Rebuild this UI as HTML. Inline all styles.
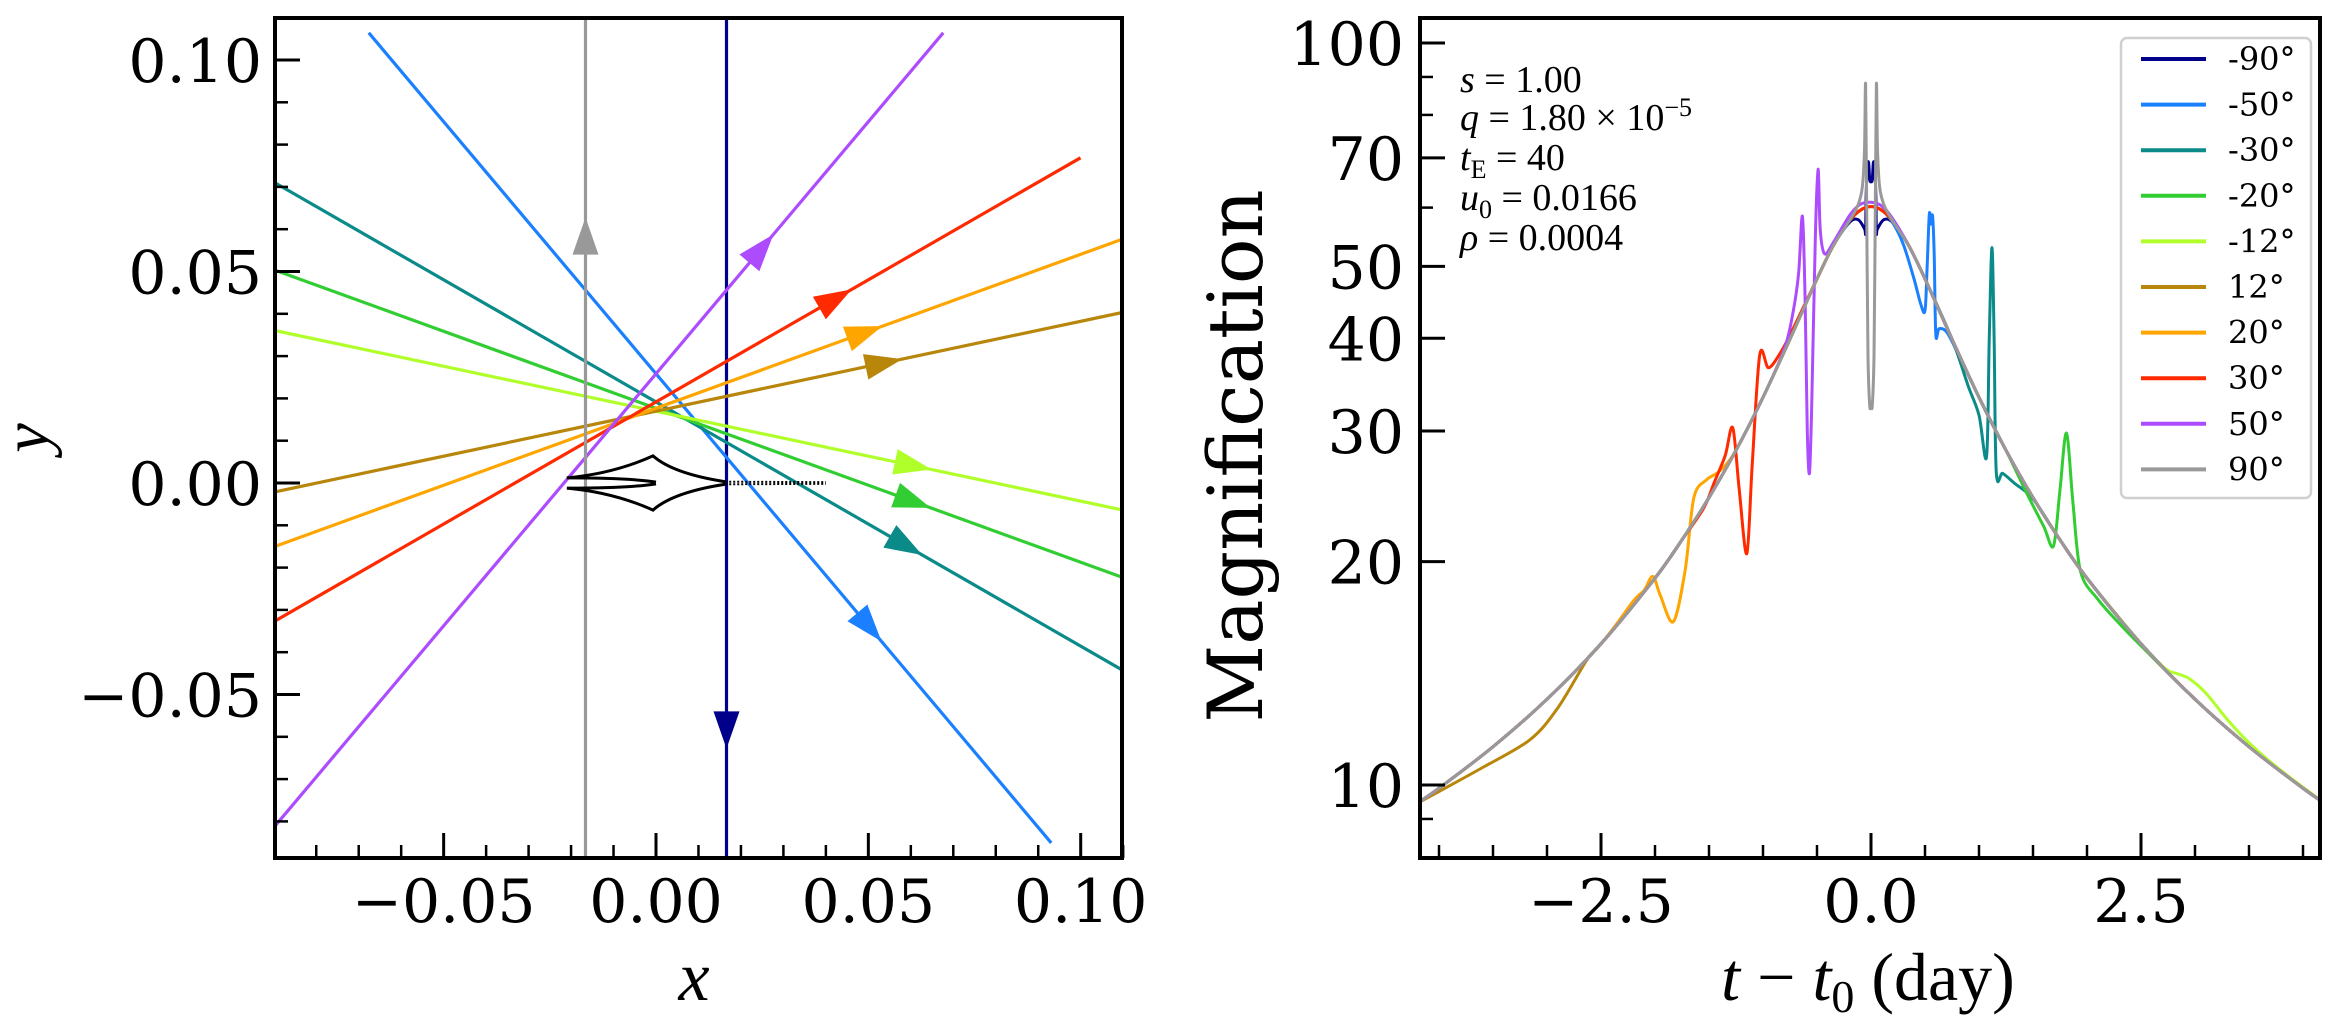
<!DOCTYPE html>
<html><head><meta charset="utf-8"><style>
html,body{margin:0;padding:0;background:#fff;}
svg{display:block;}
.tk{font-family:"DejaVu Serif",serif;font-size:60px;fill:#000;}
.ann{font-family:"Liberation Serif",serif;font-size:38px;fill:#000;}
.leg{font-family:"DejaVu Serif",serif;font-size:32px;fill:#000;}
</style></head><body>
<svg id="fig" width="2329" height="1028" xmlns="http://www.w3.org/2000/svg">
<defs>
<clipPath id="clipL"><rect x="275" y="18" width="847" height="840"/></clipPath>
<clipPath id="clipR"><rect x="1420" y="18" width="900" height="840"/></clipPath>
</defs>
<rect width="2329" height="1028" fill="#fff"/>
<g id="left"></g>
<g id="right"></g>
</svg>
<script>
// ---------- data ----------
const angleLabels = ["-90°","-50°","-30°","-20°","-12°","12°","20°","30°","50°","90°"];
const anglesDeg = [-90,-50,-30,-20,-12,12,20,30,50,90];
const colors = ["#00008b","#1b80ff","#0b8a8a","#32cd32","#b0ff2a","#b8860b","#ffa500","#ff2a00","#ad4cff","#999999"];
const u0 = 0.0166;
const tRange = [-0.125, 0.125];
const arrowT = [0.054, 0.0628];
const xTicksL = [-0.05, 0.00, 0.05, 0.10];
const xTickLabelsL = ["\u22120.05","0.00","0.05","0.10"];
const yTicksL = [-0.05, 0.00, 0.05, 0.10];
const yTickLabelsL = ["\u22120.05","0.00","0.05","0.10"];
const xTicksR = [-2.5, 0.0, 2.5];
const xTickLabelsR = ["\u22122.5","0.0","2.5"];
const yTicksR = [10,20,30,40,50,70,100];
const yTickLabelsR = ["10","20","30","40","50","70","100"];
const yMinorR = [9,60,80,90];

const t_m90 = [-4.2,-4,-3.5,-3,-2.5,-2,-1.75,-1.5,-1.25,-1,-0.75,-0.5,-0.35,-0.2,-0.12,-0.06,-0.05,-0.045,-0.035,-0.022,-0.012,0,0.012,0.022,0.035,0.045,0.05,0.06,0.12,0.2,0.35,0.5,0.75,1,1.25,1.5,1.75,2,2.5,3,3.5,4,4.2];
const a_m90 = [9.45,9.9,11.26,13.05,15.5,19.0,21.4,24.4,28.25,33.3,39.9,48.1,53.3,57.3,57.8,56.2,55.5,62,68,69,65.5,65,65.5,69,68,62,55.5,56.2,57.8,57.3,53.3,48.1,39.9,33.3,28.25,24.4,21.4,19.0,15.5,13.05,11.26,9.9,9.45];
const t_m50 = [-4.2,-4,-3.5,-3,-2.5,-2,-1.75,-1.5,-1.25,-1,-0.75,-0.5,-0.35,-0.2,-0.1,0,0.1,0.2,0.3,0.4,0.46,0.5,0.52,0.54,0.555,0.57,0.585,0.6,0.63,0.7,0.8,1,1.25,1.5,1.75,2,2.5,3,3.5,4,4.2];
const a_m50 = [9.45,9.9,11.26,13.05,15.5,19.0,21.4,24.4,28.25,33.3,39.9,48.1,53.3,57.6,59.5,60.2,59.5,57.3,53.5,48,44.5,43.6,50,58.8,57,58.5,52,40.5,41.2,40.8,38.3,33.3,28.25,24.4,21.4,19.0,15.5,13.05,11.26,9.9,9.45];
const t_m30 = [-4.2,-4,-3.5,-3,-2.5,-2,-1.75,-1.5,-1.25,-1,-0.75,-0.5,-0.35,-0.2,-0.1,0,0.1,0.2,0.35,0.5,0.75,0.9,1.0,1.07,1.095,1.12,1.14,1.16,1.22,1.33,1.5,1.75,2,2.5,3,3.5,4,4.2];
const a_m30 = [9.45,9.9,11.26,13.05,15.5,19.0,21.4,24.4,28.25,33.3,39.9,48.1,53.3,57.6,59.5,60.2,59.5,57.6,53.3,48.1,39.9,34.5,31.5,27.7,40,53,40,26.4,26.3,25.5,24.3,21.4,19.0,15.5,13.05,11.26,9.9,9.45];
const t_m20 = [-4.2,-4,-3.5,-3,-2.5,-2,-1.75,-1.5,-1.25,-1,-0.75,-0.5,-0.35,-0.2,-0.1,0,0.1,0.2,0.35,0.5,0.75,1,1.25,1.45,1.6,1.69,1.75,1.81,1.87,1.94,2.1,2.3,2.5,3,3.5,4,4.2];
const a_m20 = [9.45,9.9,11.26,13.05,15.5,19.0,21.4,24.4,28.25,33.3,39.9,48.1,53.3,57.6,59.5,60.2,59.5,57.6,53.3,48.1,39.9,33.3,28.25,24.6,22.3,21.0,25,29.8,24,19.4,17.8,16.5,15.4,13.05,11.26,9.9,9.45];
const t_m12 = [-4.2,-4,-3.5,-3,-2.5,-2,-1.75,-1.5,-1.25,-1,-0.75,-0.5,-0.35,-0.2,-0.1,0,0.1,0.2,0.35,0.5,0.75,1,1.25,1.5,1.75,2,2.5,2.6,2.74,2.85,2.95,3.1,3.3,3.5,3.8,4.2];
const a_m12 = [9.45,9.9,11.26,13.05,15.5,19.0,21.4,24.4,28.25,33.3,39.9,48.1,53.3,57.6,59.5,60.2,59.5,57.6,53.3,48.1,39.9,33.3,28.25,24.4,21.4,19.0,15.5,14.95,14.3,14.1,13.9,13.3,12.25,11.4,10.45,9.45];
const t_p12 = [-4.2,-4,-3.6,-3.16,-2.9,-2.63,-2.5,-2,-1.75,-1.5,-1.25,-1,-0.75,-0.5,-0.35,-0.2,-0.1,0,0.1,0.2,0.35,0.5,0.75,1,1.25,1.5,1.75,2,2.5,3,3.5,4,4.2];
const a_p12 = [9.45,9.8,10.55,11.5,12.7,14.75,15.5,19.0,21.4,24.4,28.25,33.3,39.9,48.1,53.3,57.6,59.5,60.2,59.5,57.6,53.3,48.1,39.9,33.3,28.25,24.4,21.4,19.0,15.5,13.05,11.26,9.9,9.45];
const t_p20 = [-4.2,-4,-3.5,-3,-2.5,-2.2,-2.1,-2.02,-1.95,-1.83,-1.72,-1.64,-1.52,-1.4,-1.25,-1,-0.75,-0.5,-0.35,-0.2,-0.1,0,0.1,0.2,0.35,0.5,0.75,1,1.25,1.5,1.75,2,2.5,3,3.5,4,4.2];
const a_p20 = [9.45,9.9,11.26,13.05,15.5,17.7,18.3,19.1,18,16.6,19.5,24.4,25.8,26.5,28.25,33.3,39.9,48.1,53.3,57.6,59.5,60.2,59.5,57.6,53.3,48.1,39.9,33.3,28.25,24.4,21.4,19.0,15.5,13.05,11.26,9.9,9.45];
const t_p30 = [-4.2,-4,-3.5,-3,-2.5,-2,-1.75,-1.55,-1.45,-1.35,-1.28,-1.22,-1.15,-1.1,-1.03,-0.95,-0.85,-0.75,-0.5,-0.35,-0.2,-0.1,0,0.1,0.2,0.35,0.5,0.75,1,1.25,1.5,1.75,2,2.5,3,3.5,4,4.2];
const a_p30 = [9.45,9.9,11.26,13.05,15.5,19.0,21.4,23.6,25.6,27.8,30.3,25,20.5,27,38,36.5,38,40.4,48.1,53.3,57.6,59.5,60.2,59.5,57.6,53.3,48.1,39.9,33.3,28.25,24.4,21.4,19.0,15.5,13.05,11.26,9.9,9.45];
const t_p50 = [-4.2,-4,-3.5,-3,-2.5,-2,-1.75,-1.5,-1.25,-1,-0.8,-0.72,-0.67,-0.635,-0.61,-0.59,-0.57,-0.55,-0.515,-0.49,-0.47,-0.43,-0.35,-0.2,-0.1,0,0.1,0.2,0.35,0.5,0.75,1,1.25,1.5,1.75,2,2.5,3,3.5,4,4.2];
const a_p50 = [9.45,9.9,11.26,13.05,15.5,19.0,21.4,24.4,28.25,33.3,38.8,43.5,49,58.4,45,30,26.3,32,55,67.6,56,52,53.8,58.5,60.6,61,60.3,58,53.3,48.1,39.9,33.3,28.25,24.4,21.4,19.0,15.5,13.05,11.26,9.9,9.45];
const t_p90 = [-4.2,-4,-3.5,-3,-2.5,-2,-1.75,-1.5,-1.25,-1,-0.75,-0.5,-0.35,-0.2,-0.12,-0.08,-0.06,-0.05,-0.04,-0.028,-0.012,0,0.012,0.028,0.04,0.05,0.06,0.08,0.12,0.2,0.35,0.5,0.75,1,1.25,1.5,1.75,2,2.5,3,3.5,4,4.2];
const a_p90 = [9.45,9.9,11.26,13.05,15.5,19.0,21.4,24.4,28.25,33.3,39.9,48.1,53.3,57.6,60.5,64,72,88,60,38,32.5,32.5,32.5,38,60,88,72,64,60.5,57.6,53.3,48.1,39.9,33.3,28.25,24.4,21.4,19.0,15.5,13.05,11.26,9.9,9.45];

const seriesT = [t_m90,t_m50,t_m30,t_m20,t_m12,t_p12,t_p20,t_p30,t_p50,t_p90];
const seriesA = [a_m90,a_m50,a_m30,a_m20,a_m12,a_p12,a_p20,a_p30,a_p50,a_p90];

// caustic outline (data units)
const causticX = [-0.021,-0.010,-0.0007, 0.004, 0.0163];
const causticY = [0.0012, 0.0022, 0.0064, 0.0022, 0.0003];

// ---------- scales ----------
const NS="http://www.w3.org/2000/svg";
const L={x0:275,x1:1122,y0:18,y1:858};
const R={x0:1420,x1:2320,y0:18,y1:858};
function lx(v){return 656+4247*v;}
function ly(v){return 483-4230*v;}
function rx(t){return 1871+108*t;}
function ry(a){return 785-742*Math.log10(a/10);}
function mk(tag,attrs,parent){const e=document.createElementNS(NS,tag);for(const k in attrs)e.setAttribute(k,attrs[k]);parent.appendChild(e);return e;}
function crPath(pts){let d="M"+pts[0][0].toFixed(2)+","+pts[0][1].toFixed(2);
 for(let i=0;i<pts.length-1;i++){const p0=pts[Math.max(0,i-1)],p1=pts[i],p2=pts[i+1],p3=pts[Math.min(pts.length-1,i+2)];
 const k=0.16;const c1=[p1[0]+(p2[0]-p0[0])*k,p1[1]+(p2[1]-p0[1])*k];const c2=[p2[0]-(p3[0]-p1[0])*k,p2[1]-(p3[1]-p1[1])*k];
 d+="C"+c1[0].toFixed(2)+","+c1[1].toFixed(2)+" "+c2[0].toFixed(2)+","+c2[1].toFixed(2)+" "+p2[0].toFixed(2)+","+p2[1].toFixed(2);}
 return d;}

const gL=document.getElementById('left');
const gR=document.getElementById('right');

// ---------- left panel ----------
const trajG=mk('g',{'clip-path':'url(#clipL)'},gL);


for(let i=0;i<anglesDeg.length;i++){
 const a=anglesDeg[i]*Math.PI/180, c=Math.cos(a), s=Math.sin(a);
 const cx=-u0*s, cy=u0*c;
 const p=(t)=>[lx(cx+t*c),ly(cy+t*s)];
 const A=p(tRange[0]),B=p(tRange[1]);
 const ln=mk('line',{x1:A[0],y1:A[1],x2:B[0],y2:B[1],stroke:colors[i],'stroke-width':3.2},trajG);
 
 
 const tip=p(arrowT[1]),base=p(arrowT[0]);
 const dx=tip[0]-base[0],dy=tip[1]-base[1],len=Math.hypot(dx,dy),nx=-dy/len*13,ny=dx/len*13;
 const tri=mk('polygon',{points:`${tip[0]},${tip[1]} ${base[0]+nx},${base[1]+ny} ${base[0]-nx},${base[1]-ny}`,fill:colors[i]},trajG);
 
 
}
// caustic
{
 const up=causticX.map((x,i)=>[lx(x),ly(causticY[i])]);
 const dn=causticX.map((x,i)=>[lx(x),ly(-causticY[i])]);
 const d=`M${up[0][0]},${up[0][1]} Q${up[1][0]},${up[1][1]} ${up[2][0]},${up[2][1]} Q${up[3][0]},${up[3][1]} ${up[4][0]},${up[4][1]} `+
 `M${dn[0][0]},${dn[0][1]} Q${dn[1][0]},${dn[1][1]} ${dn[2][0]},${dn[2][1]} Q${dn[3][0]},${dn[3][1]} ${dn[4][0]},${dn[4][1]} `+
 `M${up[0][0]},${up[0][1]} Q${lx(-0.006)},${ly(0.0012)} ${lx(0)},${ly(0.0002)} M${dn[0][0]},${dn[0][1]} Q${lx(-0.006)},${ly(-0.0012)} ${lx(0)},${ly(-0.0002)}`;
 const cp=mk('path',{d:d,fill:'none',stroke:'#000','stroke-width':3},trajG);
 
 
 const tail=mk('path',{d:`M${lx(0.0163)},${ly(0.0003)} L${lx(0.040)},${ly(0.0002)} M${lx(0.0163)},${ly(-0.0003)} L${lx(0.040)},${ly(-0.0002)}`,fill:'none',stroke:'#000','stroke-width':2,'stroke-dasharray':'2 2'},trajG);
 
 
}
// left axes
{
 const ax=mk('g',{},gL);
 
 
 for(let v=-8;v<=11;v++){const x=lx(v/100);if(v%5!==0){mk('line',{x1:x,y1:L.y1,x2:x,y2:L.y1-13,stroke:'#000','stroke-width':2.5},ax);}}
 for(let v=-8;v<=11;v++){const y=ly(v/100);if(v%5!==0){mk('line',{x1:L.x0,y1:y,x2:L.x0+13,y2:y,stroke:'#000','stroke-width':2.5},ax);}}
 xTicksL.forEach((v,i)=>{const x=lx(v);mk('line',{x1:x,y1:L.y1,x2:x,y2:L.y1-25,stroke:'#000','stroke-width':3},ax);
  const t=mk('text',{x:x,y:922,'text-anchor':'middle',class:'tk'},ax);t.textContent=xTickLabelsL[i];
  
  });
 yTicksL.forEach((v,i)=>{const y=ly(v);mk('line',{x1:L.x0,y1:y,x2:L.x0+25,y2:y,stroke:'#000','stroke-width':3},ax);
  const t=mk('text',{x:262,y:y+22,'text-anchor':'end',class:'tk'},ax);t.textContent=yTickLabelsL[i];
  
  });
 mk('rect',{x:L.x0,y:L.y0,width:L.x1-L.x0,height:L.y1-L.y0,fill:'none',stroke:'#000','stroke-width':4},ax);
 const xl=mk('text',{x:694,y:1000,'text-anchor':'middle','font-family':'Liberation Serif, serif','font-style':'italic','font-size':70},ax);xl.textContent='x';
 
 
 const yl=mk('text',{x:0,y:0,transform:'translate(48,438) rotate(-90)','text-anchor':'middle','font-family':'Liberation Serif, serif','font-style':'italic','font-size':66},ax);yl.textContent='y';
 
 
}

// ---------- right panel ----------
const curG=mk('g',{'clip-path':'url(#clipR)'},gR);


for(let i=0;i<seriesT.length;i++){
 const pts=seriesT[i].map((t,j)=>[rx(t),ry(seriesA[i][j])]);
 const p=mk('path',{d:crPath(pts),fill:'none',stroke:colors[i],'stroke-width':3,'stroke-linejoin':'round'},curG);
 
 
}
{
 const ax=mk('g',{},gR);
 
 
 for(let k=-8;k<=8;k++){if(k%5!==0){const x=rx(k*0.5);mk('line',{x1:x,y1:R.y1,x2:x,y2:R.y1-13,stroke:'#000','stroke-width':2.5},ax);}}
 yMinorR.forEach(v=>{const y=ry(v);mk('line',{x1:R.x0,y1:y,x2:R.x0+13,y2:y,stroke:'#000','stroke-width':2.5},ax);});
 xTicksR.forEach((v,i)=>{const x=rx(v);mk('line',{x1:x,y1:R.y1,x2:x,y2:R.y1-25,stroke:'#000','stroke-width':3},ax);
  const t=mk('text',{x:x,y:922,'text-anchor':'middle',class:'tk'},ax);t.textContent=xTickLabelsR[i];
  
  });
 yTicksR.forEach((v,i)=>{const y=ry(v);mk('line',{x1:R.x0,y1:y,x2:R.x0+25,y2:y,stroke:'#000','stroke-width':3},ax);
  const t=mk('text',{x:1404,y:y+22,'text-anchor':'end',class:'tk'},ax);t.textContent=yTickLabelsR[i];
  
  });
 mk('rect',{x:R.x0,y:R.y0,width:R.x1-R.x0,height:R.y1-R.y0,fill:'none',stroke:'#000','stroke-width':4},ax);
 const yl=mk('text',{x:0,y:0,transform:'translate(1262,456) rotate(-90)','text-anchor':'middle','font-family':'DejaVu Serif, serif','font-size':76},ax);yl.textContent='Magnification';
 
 
}
</script>
<svg style="position:absolute;left:0;top:0" width="2329" height="1028" xmlns="http://www.w3.org/2000/svg">
<text x="1868" y="1000" text-anchor="middle" font-family="Liberation Serif, serif" font-size="68"><tspan font-style="italic">t</tspan> − <tspan font-style="italic">t</tspan><tspan font-size="46" dy="12">0</tspan><tspan dy="-12"> (day)</tspan></text>
<g class="ann">
<text class="ann" x="1460" y="92"><tspan font-style="italic">s</tspan> = 1.00</text>
<text class="ann" x="1460" y="130"><tspan font-style="italic">q</tspan> = 1.80 × 10<tspan font-size="26" dy="-14">−5</tspan></text>
<text class="ann" x="1460" y="170"><tspan font-style="italic">t</tspan><tspan font-size="26" dy="8">E</tspan><tspan dy="-8"> = 40</tspan></text>
<text class="ann" x="1460" y="210"><tspan font-style="italic">u</tspan><tspan font-size="26" dy="8">0</tspan><tspan dy="-8"> = 0.0166</tspan></text>
<text class="ann" x="1460" y="250"><tspan font-style="italic">ρ</tspan> = 0.0004</text>
</g>
<g>
<rect x="2121" y="38" width="190" height="460" rx="6" fill="#fff" fill-opacity="0.85" stroke="#d0d0d0" stroke-width="2.5"/>
<g id="legItems"></g>
</g>
</svg>
<script>
(function(){
 const g=document.getElementById('legItems');
 for(let i=0;i<angleLabels.length;i++){
  const y=59+i*45.6;
  const row=document.createElementNS(NS,'g');
  
  
  const l=document.createElementNS(NS,'line');
  l.setAttribute('x1',2141);l.setAttribute('x2',2206);l.setAttribute('y1',y);l.setAttribute('y2',y);
  l.setAttribute('stroke',colors[i]);l.setAttribute('stroke-width',4);
  row.appendChild(l);
  const t=document.createElementNS(NS,'text');
  t.setAttribute('x',2228);t.setAttribute('y',y+11);t.setAttribute('class','leg');
  t.textContent=angleLabels[i];
  row.appendChild(t);
  g.appendChild(row);
 }
})();
</script>
<style>body{position:relative;width:2329px;height:1028px;overflow:hidden;}</style>
</body></html>
